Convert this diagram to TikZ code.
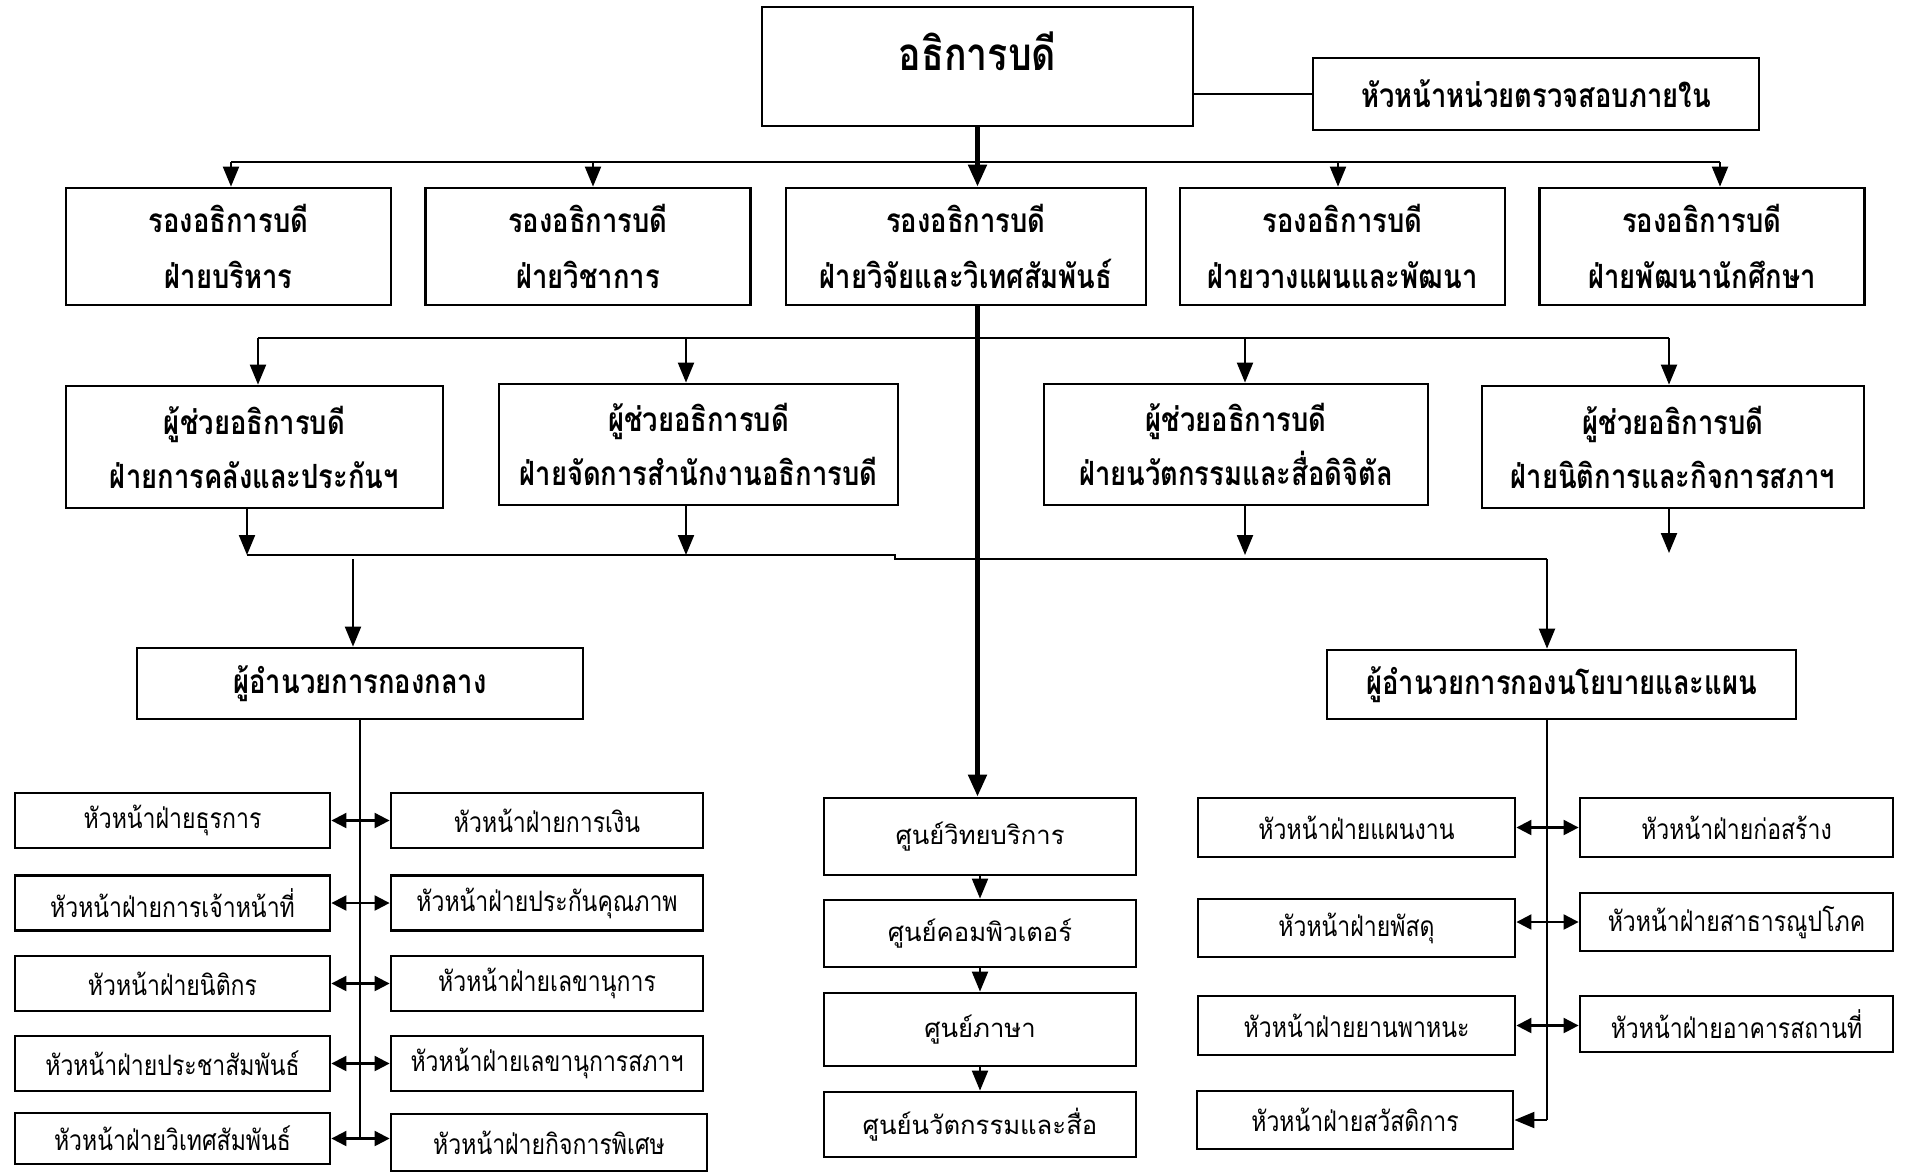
\documentclass[tikz,border=0pt]{standalone}
\usepackage{fontspec}
\usepackage{tikz}
\usetikzlibrary{arrows.meta}
\newfontfamily\thaic[Script=Thai,FakeStretch=0.82]{Loma}
\newfontfamily\thair[Script=Thai]{Loma}
\tikzset{
  unit/.style={draw, line width=0.8pt, inner sep=0pt, align=center},
  chief/.style={unit, minimum width=4.31cm, minimum height=1.19cm, text depth=0.3cm,
                font=\thaic\bfseries\fontsize{13}{15}\selectfont},
  vp/.style={unit, minimum width=3.25cm, minimum height=1.17cm,
             font=\thaic\bfseries\fontsize{9.5}{16}\selectfont},
  ap/.style={unit, minimum height=1.22cm, font=\thaic\bfseries\fontsize{9.5}{15.4}\selectfont},
  dir/.style={unit, minimum height=0.70cm, font=\thaic\bfseries\fontsize{9.5}{11}\selectfont},
  sec/.style={unit, minimum height=0.55cm, font=\thaic\fontsize{8}{10}\selectfont},
  ctr/.style={unit, minimum width=3.12cm, font=\thair\fontsize{7.3}{9}\selectfont},
  ln/.style={line width=0.6pt},
  arr/.style={ln, -{Triangle[length=2mm,width=1.6mm]}},
  dbl/.style={ln, {Triangle[length=1.5mm,width=1.5mm]}-{Triangle[length=1.5mm,width=1.5mm]}},
  spine/.style={line width=1.4pt, -{Triangle[length=2.2mm,width=1.8mm]}},
}
\begin{document}
\begin{tikzpicture}
  \useasboundingbox (0,0) rectangle (19.05,-11.71);
  % top level
  \node[chief] (rector) at (9.775,-0.665) {อธิการบดี};
  \node[vp, minimum width=4.46cm, minimum height=0.72cm] (audit) at (15.36,-0.94) {หัวหน้าหน่วยตรวจสอบภายใน};
  \draw[ln] (audit.west) -- (audit.west -| rector.east);

  % vice presidents
  \node[vp] (vp1) at (2.285,-2.465) {รองอธิการบดี\\ฝ่ายบริหาร};
  \node[vp] (vp2) at (5.88,-2.465) {รองอธิการบดี\\ฝ่ายวิชาการ};
  \node[vp, minimum width=3.60cm] (vp3) at (9.66,-2.465) {รองอธิการบดี\\ฝ่ายวิจัยและวิเทศสัมพันธ์};
  \node[vp] (vp4) at (13.425,-2.465) {รองอธิการบดี\\ฝ่ายวางแผนและพัฒนา};
  \node[vp] (vp5) at (17.02,-2.465) {รองอธิการบดี\\ฝ่ายพัฒนานักศึกษา};
  \coordinate (t1) at (2.31,-1.62);
  \coordinate (t2) at (5.93,-1.62);
  \coordinate (t4) at (13.38,-1.62);
  \coordinate (t5) at (17.20,-1.62);
  \draw[ln] (t1) -- (t5);
  \foreach \i in {1,2,4,5} \draw[arr] (t\i) -- (t\i |- vp\i.north);

  % assistants
  \node[ap, minimum width=3.77cm] (ap1) at (2.545,-4.47) {ผู้ช่วยอธิการบดี\\ฝ่ายการคลังและประกันฯ};
  \node[ap, minimum width=3.99cm, minimum height=1.21cm] (ap2) at (6.985,-4.445) {ผู้ช่วยอธิการบดี\\ฝ่ายจัดการสำนักงานอธิการบดี};
  \node[ap, minimum width=3.84cm, minimum height=1.21cm] (ap3) at (12.36,-4.445) {ผู้ช่วยอธิการบดี\\ฝ่ายนวัตกรรมและสื่อดิจิตัล};
  \node[ap, minimum width=3.82cm] (ap4) at (16.73,-4.47) {ผู้ช่วยอธิการบดี\\ฝ่ายนิติการและกิจการสภาฯ};
  \coordinate (u1) at (2.58,-3.38);
  \coordinate (u2) at (6.86,-3.38);
  \coordinate (u3) at (12.45,-3.38);
  \coordinate (u4) at (16.69,-3.38);
  \draw[ln] (u1) -- (u4);
  \foreach \i in {1,...,4} \draw[arr] (u\i) -- (u\i |- ap\i.north);
  \coordinate (w1) at (2.47,-5.55);
  \coordinate (w2) at (6.86,-5.55);
  \coordinate (w3) at (12.45,-5.55);
  \coordinate (w4) at (16.69,-5.53);
  \foreach \i in {1,...,4} \draw[arr] (w\i |- ap\i.south) -- (w\i);
  \coordinate (bl) at (3.53,-5.59);
  \coordinate (br) at (15.47,-5.59);
  \draw[ln] (w1) -- (8.95,-5.55) -- (8.95,-5.59) -- (br);

  % directors
  \node[dir, minimum width=4.46cm, minimum height=0.71cm] (dc) at (3.60,-6.835) {ผู้อำนวยการกองกลาง};
  \node[dir, minimum width=4.69cm, minimum height=0.69cm] (dp) at (15.615,-6.845) {ผู้อำนวยการกองนโยบายและแผน};
  \draw[arr] (bl) -- (bl |- dc.north);
  \draw[arr] (br) -- (br |- dp.north);

  % central division
  \node[sec, minimum width=3.15cm] (l1) at (1.725,-8.205) {หัวหน้าฝ่ายธุรการ};
  \node[sec, minimum width=3.15cm] (l2) at (1.725,-9.03) {หัวหน้าฝ่ายการเจ้าหน้าที่};
  \node[sec, minimum width=3.15cm] (l3) at (1.725,-9.835) {หัวหน้าฝ่ายนิติกร};
  \node[sec, minimum width=3.15cm] (l4) at (1.725,-10.635) {หัวหน้าฝ่ายประชาสัมพันธ์};
  \node[sec, minimum width=3.15cm, minimum height=0.51cm] (l5) at (1.725,-11.385) {หัวหน้าฝ่ายวิเทศสัมพันธ์};
  \node[sec, minimum width=3.12cm] (r1) at (5.47,-8.205) {หัวหน้าฝ่ายการเงิน};
  \node[sec, minimum width=3.12cm] (r2) at (5.47,-9.03) {หัวหน้าฝ่ายประกันคุณภาพ};
  \node[sec, minimum width=3.12cm] (r3) at (5.47,-9.835) {หัวหน้าฝ่ายเลขานุการ};
  \node[sec, minimum width=3.12cm] (r4) at (5.47,-10.635) {หัวหน้าฝ่ายเลขานุการสภาฯ};
  \node[sec, minimum width=3.16cm, minimum height=0.57cm] (r5) at (5.49,-11.425) {หัวหน้าฝ่ายกิจการพิเศษ};
  \draw[ln] (dc.south) -- (dc.south |- l5.east);
  \foreach \i in {1,...,4} \draw[dbl] (l\i.east) -- (r\i.west);
  \draw[dbl] (l5.east) -- (l5.east -| r5.west);

  % centres
  \node[ctr, minimum height=0.77cm] (c1) at (9.80,-8.365) {ศูนย์วิทยบริการ};
  \node[ctr, minimum height=0.67cm] (c2) at (9.80,-9.335) {ศูนย์คอมพิวเตอร์};
  \node[ctr, minimum height=0.73cm] (c3) at (9.80,-10.295) {ศูนย์ภาษา};
  \node[ctr, minimum height=0.65cm] (c4) at (9.80,-11.245) {ศูนย์นวัตกรรมและสื่อ};
  \draw[spine] (rector.south) -- (rector.south |- vp3.north);
  \draw[spine] (rector.south |- vp3.south) -- (rector.south |- c1.north);
  \draw[arr] (c1) -- (c2);
  \draw[arr] (c2) -- (c3);
  \draw[arr] (c3) -- (c4);

  % policy and planning division
  \node[sec, minimum width=3.17cm, minimum height=0.59cm] (p1) at (13.565,-8.275) {หัวหน้าฝ่ายแผนงาน};
  \node[sec, minimum width=3.17cm, minimum height=0.58cm] (p2) at (13.565,-9.28) {หัวหน้าฝ่ายพัสดุ};
  \node[sec, minimum width=3.17cm, minimum height=0.59cm] (p3) at (13.565,-10.255) {หัวหน้าฝ่ายยานพาหนะ};
  \node[sec, minimum width=3.16cm, minimum height=0.58cm] (p4) at (13.55,-11.20) {หัวหน้าฝ่ายสวัสดิการ};
  \node[sec, minimum width=3.13cm, minimum height=0.59cm] (q1) at (17.365,-8.275) {หัวหน้าฝ่ายก่อสร้าง};
  \node[sec, minimum width=3.13cm, minimum height=0.58cm] (q2) at (17.365,-9.22) {หัวหน้าฝ่ายสาธารณูปโภค};
  \node[sec, minimum width=3.13cm, minimum height=0.56cm] (q3) at (17.365,-10.24) {หัวหน้าฝ่ายอาคารสถานที่};
  \draw[ln] (br |- dp.south) -- (br |- p4.east);
  \draw[dbl] (p1.east) -- (q1.west);
  \draw[dbl] (q2.west -| p2.east) -- (q2.west);
  \draw[dbl] (p3.east) -- (p3.east -| q3.west);
  \draw[arr] (br |- p4.east) -- (p4.east);
\end{tikzpicture}
\end{document}
